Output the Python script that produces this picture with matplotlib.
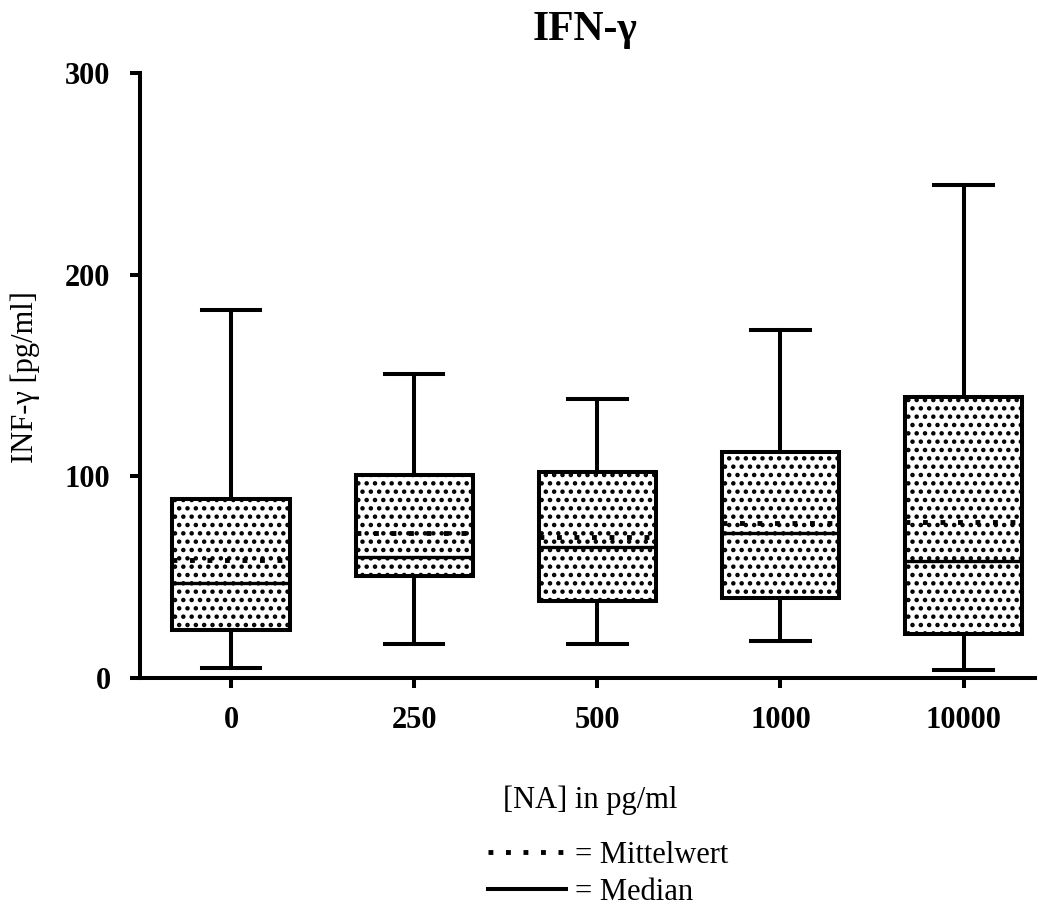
import matplotlib.pyplot as plt
from matplotlib.lines import Line2D

plt.rcParams['font.family'] = ['Liberation Serif', 'DejaVu Serif']
plt.rcParams['hatch.linewidth'] = 2.0

# values (pg/ml)
groups = ['0', '250', '500', '1000', '10000']
whis_low = [5, 17, 17, 18.3, 4]
q1 = [24, 50.6, 38, 39.7, 22]
median = [47, 60, 65, 72, 58]
mean = [58.5, 72, 70, 77, 77.3]
q3 = [88.7, 100.6, 102, 112, 139.3]
whis_high = [182.5, 150.7, 138.3, 172.5, 244.4]

stats = []
for i in range(len(groups)):
    stats.append({'whislo': whis_low[i], 'q1': q1[i], 'med': median[i],
                  'mean': mean[i], 'q3': q3[i], 'whishi': whis_high[i],
                  'fliers': [], 'label': groups[i]})

fig = plt.figure(figsize=(10.38, 9.06), dpi=100)
ax = fig.add_axes([140/1038, 1 - 678/906, 895/1038, 605/906])

lw = 2.9
mlw = 3.5
dotted = (0, (1.0, 2.6))
ax.bxp(stats, positions=range(len(groups)), widths=0.64, capwidths=0.32,
       patch_artist=True, showmeans=True, meanline=True,
       boxprops=dict(facecolor='white', edgecolor='black', hatch='..', linewidth=lw),
       medianprops=dict(color='black', linewidth=2.4, zorder=3),
       meanprops=dict(color='black', linewidth=mlw, linestyle=dotted, zorder=4),
       whiskerprops=dict(color='black', linewidth=lw),
       capprops=dict(color='black', linewidth=lw))

ax.set_xlim(-0.497, 4.39)
ax.set_ylim(0, 300)
ax.set_yticks([0, 100, 200, 300])
ax.set_xticks(range(len(groups)))
ax.set_xticklabels(groups)
for s in ['top', 'right']:
    ax.spines[s].set_visible(False)
for s in ['left', 'bottom']:
    ax.spines[s].set_linewidth(lw)
ax.tick_params(axis='both', length=7.2, width=lw, labelsize=22)
ax.tick_params(axis='x', pad=13)
ax.tick_params(axis='y', pad=14)
for t in ax.get_xticklabels() + ax.get_yticklabels():
    t.set_fontweight('bold')

ax.set_xlabel('[NA] in pg/ml', fontsize=22)
ax.xaxis.set_label_coords(0.503, -0.1785)
ax.set_ylabel('INF-γ [pg/ml]', fontsize=22)
ax.yaxis.set_label_coords(-0.112, 0.4975)
ax.text(0.497, 1.071, 'IFN-γ', transform=ax.transAxes, ha='center', va='center',
        fontsize=30, fontweight='bold')

handles = [Line2D([], [], color='black', linewidth=mlw, linestyle=dotted),
           Line2D([], [], color='black', linewidth=lw)]
fig.legend(handles, ['= Mittelwert', '= Median'], loc='center left',
           bbox_to_anchor=(488/1038, 1 - 874/906), frameon=False, fontsize=22,
           handlelength=2.55, handletextpad=0.3, labelspacing=0.25,
           borderpad=0, borderaxespad=0)

plt.savefig('out.png', dpi=100)
